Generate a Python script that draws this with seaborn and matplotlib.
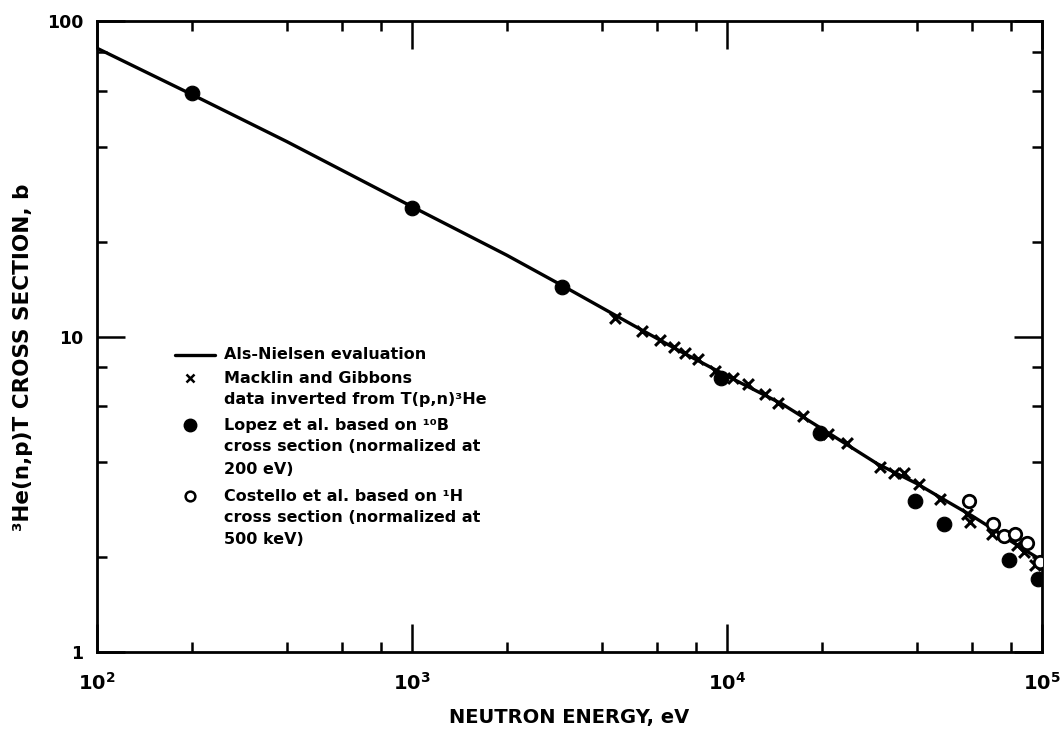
import numpy as np
import pandas as pd
import matplotlib
matplotlib.use("Agg")
import matplotlib.pyplot as plt
import seaborn as sns

# Als-Nielsen evaluation curve (energy in eV, cross section in barns)
eval_energy = [100, 200, 400, 1000, 2000, 3000, 5000, 7000, 10000, 15000,
               20000, 30000, 40000, 50000, 60000, 70000, 80000, 90000, 100000]
eval_sigma = [82.0, 58.5, 41.5, 25.8, 18.1, 14.5, 10.9, 9.05, 7.5, 6.1,
              5.1, 3.95, 3.42, 3.0, 2.7, 2.45, 2.24, 2.08, 1.95]

# Macklin and Gibbons, inverted from T(p,n)3He
macklin_energy = [4420, 5380, 6140, 6800, 7360, 8100, 9160, 10450, 11650,
                  13200, 14500, 17400, 20900, 24100, 30500, 34000, 36600,
                  40800, 47600, 57900, 59200, 69500, 83400, 87700, 95000]
macklin_sigma = [11.45, 10.4, 9.75, 9.26, 8.87, 8.48, 7.77, 7.38, 7.06,
                 6.56, 6.15, 5.59, 4.9, 4.58, 3.87, 3.68, 3.68,
                 3.4, 3.06, 2.73, 2.59, 2.36, 2.19, 2.08, 1.89]

# Lopez et al., based on the 10B cross section
lopez_energy = [200, 1000, 3000, 9600, 19800, 39400, 49000, 78700, 97000]
lopez_sigma = [59.0, 25.6, 14.3, 7.4, 4.93, 3.02, 2.55, 1.96, 1.70]

# Costello et al., based on the 1H cross section
costello_energy = [58700, 70000, 75800, 82200, 89700, 98600]
costello_sigma = [3.0, 2.54, 2.34, 2.36, 2.22, 1.93]

x_tick_values = [1e2, 1e3, 1e4, 1e5]
x_tick_labels = [r"$\mathbf{10^2}$", r"$\mathbf{10^3}$", r"$\mathbf{10^4}$", r"$\mathbf{10^5}$"]
y_tick_values = [1, 10, 100]
y_tick_labels = ["1", "10", "100"]

legend_labels = [
    ["Als-Nielsen evaluation"],
    ["Macklin and Gibbons", "data inverted from T(p,n)³He"],
    ["Lopez et al. based on ¹⁰B", "cross section (normalized at", "200 eV)"],
    ["Costello et al. based on ¹H", "cross section (normalized at", "500 keV)"],
]

sns.set_style("ticks")
plt.rcParams["font.family"] = ["DejaVu Sans"]
plt.rcParams["font.weight"] = "bold"
plt.rcParams["text.color"] = "black"
plt.rcParams["axes.labelcolor"] = "black"
plt.rcParams["xtick.color"] = "black"
plt.rcParams["ytick.color"] = "black"
plt.rcParams["xtick.labelcolor"] = "black"
plt.rcParams["ytick.labelcolor"] = "black"

fig = plt.figure(figsize=(10.63, 7.30), dpi=100)
ax = fig.add_axes([97 / 1063, 1 - 652 / 730, 945 / 1063, 631 / 730])

df_eval = pd.DataFrame({"E": eval_energy, "sigma": eval_sigma})
df_mack = pd.DataFrame({"E": macklin_energy, "sigma": macklin_sigma})
df_lopez = pd.DataFrame({"E": lopez_energy, "sigma": lopez_sigma})
df_cost = pd.DataFrame({"E": costello_energy, "sigma": costello_sigma})

sns.lineplot(data=df_eval, x="E", y="sigma", ax=ax, color="black",
             linewidth=2.4, zorder=3)
sns.scatterplot(data=df_mack, x="E", y="sigma", ax=ax, marker="x",
                color="black", s=60, linewidth=2.2, zorder=4)
sns.scatterplot(data=df_lopez, x="E", y="sigma", ax=ax, marker="o",
                color="black", s=110, edgecolor="black", zorder=5)
sns.scatterplot(data=df_cost, x="E", y="sigma", ax=ax, marker="o",
                facecolor="white", s=80, edgecolor="black", linewidth=2.0,
                zorder=6)

ax.set_xscale("log")
ax.set_yscale("log")
ax.set_xlim(1e2, 1e5)
ax.set_ylim(1, 100)

ax.set_xticks(x_tick_values)
ax.set_xticklabels(x_tick_labels)
ax.set_yticks(y_tick_values)
ax.set_yticklabels(y_tick_labels)
ax.xaxis.set_minor_locator(matplotlib.ticker.LogLocator(base=10, subs=[2, 4, 6, 8]))
ax.yaxis.set_minor_locator(matplotlib.ticker.LogLocator(base=10, subs=[2, 4, 6, 8]))
ax.xaxis.set_minor_formatter(matplotlib.ticker.NullFormatter())
ax.yaxis.set_minor_formatter(matplotlib.ticker.NullFormatter())

ax.tick_params(which="both", direction="in", top=True, right=True,
               color="black", width=1.8)
ax.tick_params(which="major", length=20)
ax.tick_params(which="minor", length=7)
ax.tick_params(axis="x", which="major", pad=14, labelsize=14)
ax.tick_params(axis="y", which="major", pad=10, labelsize=12.5)
for lbl in ax.get_xticklabels() + ax.get_yticklabels():
    lbl.set_fontweight("bold")

for side in ax.spines.values():
    side.set_linewidth(2.0)
    side.set_color("black")

ax.set_xlabel("NEUTRON ENERGY, eV", fontsize=14, fontweight="bold")
ax.set_ylabel("³He(n,p)T CROSS SECTION, b", fontsize=15.5, fontweight="bold")
ax.xaxis.set_label_coords(0.5, -0.089)
ax.yaxis.set_label_coords(-0.068, 0.467)

# Hand-drawn key in axes coordinates
tr = ax.transAxes
key_x = 0.098
text_x = 0.134
row_y = [0.4707, 0.4342, 0.3994, 0.3597, 0.3249, 0.2900, 0.2472, 0.2124, 0.1775]
ax.plot([0.0825, 0.125], [row_y[0], row_y[0]], transform=tr, color="black",
        linewidth=2.4, clip_on=False)
ax.plot([key_x], [row_y[1]], transform=tr, marker="x", color="black",
        markersize=6, markeredgewidth=1.8, linestyle="none")
ax.plot([key_x], [row_y[3]], transform=tr, marker="o", color="black",
        markersize=9, linestyle="none")
ax.plot([key_x], [row_y[6]], transform=tr, marker="o", markerfacecolor="white",
        markeredgecolor="black", markersize=7, markeredgewidth=1.8,
        linestyle="none")

row = 0
for group in legend_labels:
    for line in group:
        ax.text(text_x, row_y[row], line, transform=tr, fontsize=11.5,
                fontweight="bold", va="center", ha="left", color="black")
        row += 1

fig.savefig("out.png", dpi=100, facecolor="white")
